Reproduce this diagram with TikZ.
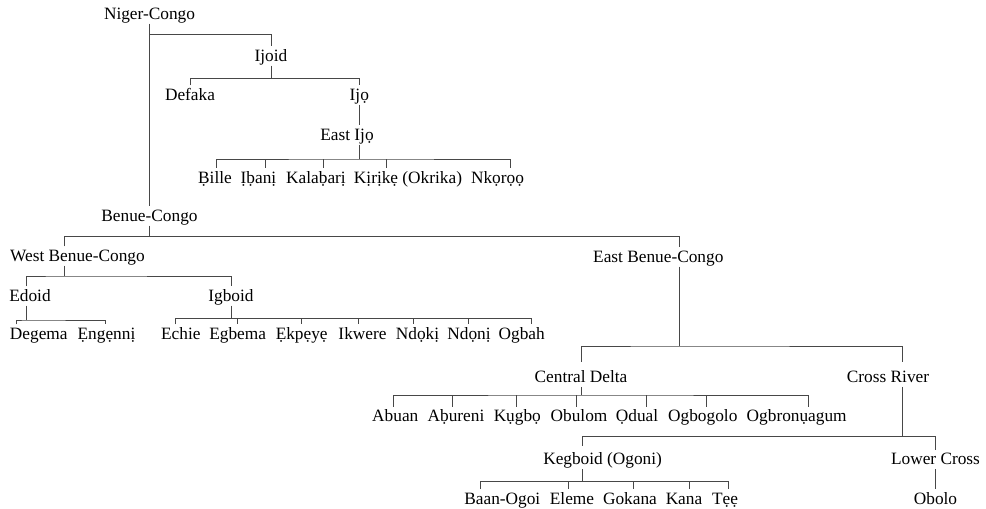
\documentclass[tikz,border=0pt]{standalone}
\usepackage{fontspec}
\setmainfont{Liberation Serif}
\begin{document}
\begin{tikzpicture}[x=1pt,y=-1pt,
  lbl/.style={anchor=base, inner xsep=1pt, inner ysep=3pt, text height=12pt, text depth=1pt,
              font=\fontsize{17.3}{20}\selectfont},
  conn/.style={draw=black!72, line width=1pt}]
\fill[white] (0,0) rectangle (986,509);
\useasboundingbox (0,0) rectangle (986,509);

% ---- Niger-Congo / Ijoid ----
\node[lbl] (nc) at (149.5,19.5) {Niger-Congo};
\node[lbl] (ijoid) at (271,61.5) {Ijoid};
\node[lbl] (defaka) at (190,100.5) {Defaka};
\node[lbl] (ijo) at (359.3,100.5) {Ijọ};
\node[lbl] (eijo) at (347,140.5) {East Ijọ};
\node[lbl] (bille) at (215,183) {Ḅille};
\node[lbl] (ibani) at (258.5,183) {Ịḅanị};
\node[lbl] (kalabari) at (316,183) {Kalaḅarị};
\node[lbl] (kirike) at (408,183) {Kịrịkẹ (Okrika)};
\node[lbl] (nkoroo) at (497.5,183) {Nkọrọọ};
\node[lbl] (bc) at (149.5,221.5) {Benue-Congo};

\draw[conn] (nc.south) -- (bc.north);
\coordinate (b1) at (149.5,34);
\draw[conn] (b1) -| (ijoid.north);
\coordinate (b2) at (271,78.3);
\draw[conn] (ijoid.south) -- (b2);
\draw[conn] (defaka.north) |- (b2) -| (ijo.north);
\draw[conn] (ijo.south) -- (ijo.south |- eijo.north);
\coordinate (b3) at (359.3,159);
\draw[conn] (ijo.south |- eijo.south) -- (b3);
\draw[conn] ([xshift=1pt]bille.north) |- (b3) -| ([xshift=12.5pt]nkoroo.north);
\foreach \n/\s in {ibani/6.5, kalabari/7, kirike/-22}{
  \coordinate (t) at ([xshift=\s pt]\n.north);
  \draw[conn] (t |- b3) -- (t);
}

% ---- Benue-Congo ----
\coordinate (b4) at (149.5,236.7);
\draw[conn] (bc.south) -- (b4);
\node[lbl] (wbc) at (77.5,261.5) {West Benue-Congo};
\node[lbl] (ebc) at (658.3,262.3) {East Benue-Congo};
\draw[conn] ([xshift=-13.2pt]wbc.north) |- (b4) -| ([xshift=20.7pt]ebc.north);

% West Benue-Congo
\coordinate (b5) at (64.3,276);
\draw[conn] ([xshift=-13.2pt]wbc.south) -- (b5);
\node[lbl] (edoid) at (30,301.5) {Edoid};
\node[lbl] (igboid) at (231,301.5) {Igboid};
\draw[conn] ([xshift=-3.3pt]edoid.north) |- (b5) -| (igboid.north);

\coordinate (b6) at (26.7,320);
\draw[conn] ([xshift=-3.3pt]edoid.south) -- (b6);
\node[lbl] (degema) at (38.8,339.5) {Degema};
\node[lbl] (engenni) at (106.5,339.5) {Ẹngẹnnị};
\draw[conn] ([xshift=-22pt]degema.north) |- (b6) -| ([xshift=-1.5pt]engenni.north);

\coordinate (b7) at (231,318.3);
\draw[conn] (igboid.south) -- (b7);
\foreach \n/\x/\t in {echie/180.8/Echie, egbema/237.7/Egbema, ekpeye/301.7/Ẹkpẹyẹ,
    ikwere/362.5/Ikwere, ndoki/417.5/Ndọkị, ndoni/469/Ndọnị, ogbah/521.7/Ogbah}
  \node[lbl] (\n) at (\x,339.5) {\t};
\draw[conn] ([xshift=-5.8pt]echie.north) |- (b7) -| ([xshift=10pt]ogbah.north);
\foreach \n/\s in {egbema/0, ekpeye/-0.7, ikwere/-4.2, ndoki/-4.2, ndoni/-0.7}{
  \coordinate (t) at ([xshift=\s pt]\n.north);
  \draw[conn] (t |- b7) -- (t);
}

% East Benue-Congo
\coordinate (b8) at (679,346);
\draw[conn] ([xshift=20.7pt]ebc.south) -- (b8);
\node[lbl] (cd) at (581,382.7) {Central Delta};
\node[lbl] (cr) at (888,382.7) {Cross River};
\draw[conn] ([yshift=6pt]cd.north) |- (b8) -| ([xshift=14.7pt,yshift=6pt]cr.north);

\coordinate (b9) at (581,395);
\draw[conn] (cd.south) -- (b9);
\foreach \n/\x/\t in {abuan/395.3/Abuan, abureni/456/Aḅureni, kugbo/517.3/Kụgbọ,
    obulom/579/Obulom, odual/637/Ọdual, ogbogolo/702.8/Ogbogolo, ogbro/796.7/Ogbronụagum}
  \node[lbl] (\n) at (\x,421.7) {\t};
\draw[conn] ([xshift=-2pt]abuan.north) |- (b9) -| ([xshift=11.6pt]ogbro.north);
\foreach \n/\s in {abureni/-3.7, kugbo/-1.3, obulom/-2.3, odual/9, ogbogolo/3.9}{
  \coordinate (t) at ([xshift=\s pt]\n.north);
  \draw[conn] (t |- b9) -- (t);
}

% Cross River
\coordinate (b10) at (902.7,436.2);
\draw[conn] ([xshift=14.7pt]cr.south) -- (b10);
\node[lbl] (keg) at (602.6,464.8) {Kegboid (Ogoni)};
\node[lbl] (lc) at (935.5,464.8) {Lower Cross};
\draw[conn] ([xshift=-20pt,yshift=4pt]keg.north) |- (b10) -| (lc.north);

\coordinate (b11) at (582.6,481.3);
\draw[conn] ([xshift=-20pt]keg.south) -- (b11);
\foreach \n/\x/\t in {baan/502.3/Baan-Ogoi, eleme/572/Eleme, gokana/630/Gokana,
    kana/684/Kana, tee/725/Tẹẹ}
  \node[lbl] (\n) at (\x,504.4) {\t};
\draw[conn] ([xshift=-22.3pt]baan.north) |- (b11) -| ([xshift=3.9pt]tee.north);
\foreach \n/\s in {eleme/-3.6, gokana/3.2, kana/5}{
  \coordinate (t) at ([xshift=\s pt]\n.north);
  \draw[conn] (t |- b11) -- (t);
}
\node[lbl] (obolo) at (935.5,504.4) {Obolo};
\draw[conn] (lc.south) -- (obolo.north);
\end{tikzpicture}
\end{document}
